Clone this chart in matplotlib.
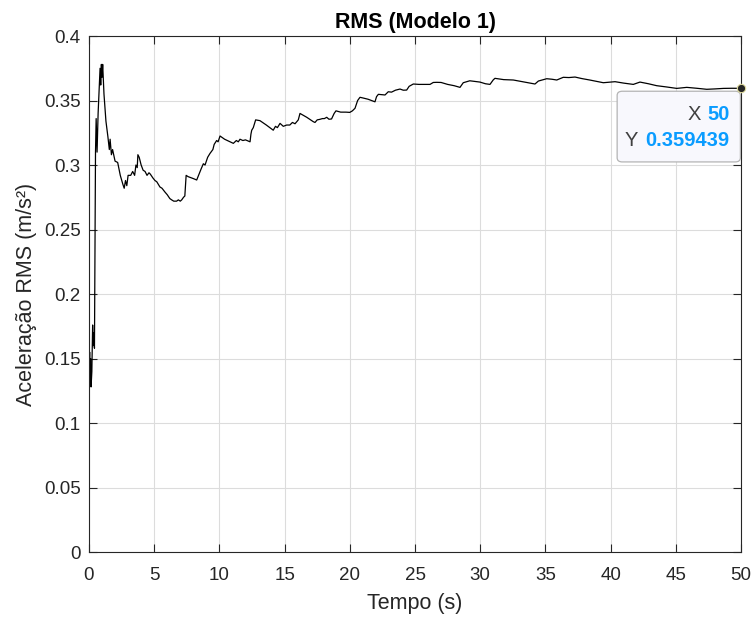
import matplotlib
matplotlib.use('Agg')
import matplotlib.pyplot as plt
from matplotlib.patches import FancyBboxPatch

plt.rcParams['font.family'] = ['Liberation Sans', 'DejaVu Sans']

# traced cumulative RMS curve
tempo = [0.0, 0.05, 0.08, 0.12, 0.16, 0.22, 0.28, 0.32, 0.36, 0.42, 0.5, 0.55, 0.62, 0.7,
         0.85, 0.9, 0.95, 1.0, 1.05, 1.15, 1.3, 1.45, 1.56, 1.62, 1.72, 1.81, 2.0, 2.2, 2.4,
         2.6, 2.7, 2.8, 2.9, 3.0, 3.2, 3.35, 3.5, 3.6, 3.7, 3.75, 3.85, 4.0, 4.15, 4.3, 4.45,
         4.6, 4.7, 4.9, 5.06, 5.2, 5.44, 5.6, 5.83, 6.0, 6.2, 6.34, 6.5, 6.72, 6.85, 7.0,
         7.11, 7.25, 7.35, 7.45, 7.6, 8.0, 8.26, 8.4, 8.6, 8.77, 8.9, 9.1, 9.28, 9.5, 9.6,
         9.79, 9.9, 10.05, 10.4, 10.81, 11.07, 11.3, 11.45, 11.58, 11.8, 12.0, 12.35, 12.42,
         12.48, 12.6, 12.78, 13.11, 13.6, 14.13, 14.3, 14.45, 14.65, 14.9, 15.16, 15.4, 15.6,
         15.8, 16.05, 16.18, 16.7, 17.2, 17.33, 17.5, 17.7, 17.9, 18.05, 18.23, 18.4, 18.6,
         18.8, 18.94, 19.3, 19.7, 20.0, 20.2, 20.4, 20.6, 20.78, 21.0, 21.4, 21.93, 22.05,
         22.19, 22.7, 22.95, 23.2, 23.5, 23.85, 24.1, 24.36, 24.55, 24.87, 25.3, 25.8, 26.15,
         26.4, 26.66, 27.0, 27.5, 28.0, 28.45, 28.7, 29.2, 29.6, 29.98, 30.4, 30.75, 31.0,
         31.13, 31.8, 32.54, 33.4, 34.2, 34.46, 35.1, 35.5, 35.87, 36.37, 36.8, 37.27, 37.8,
         38.4, 39.19, 39.44, 40.34, 41.0, 41.74, 42.25, 42.9, 43.53, 44.3, 45.07, 45.84,
         46.6, 47.37, 48.0, 48.65, 49.3, 50.0]
rms = [0.125, 0.155, 0.13, 0.15, 0.128, 0.14, 0.176, 0.16, 0.17, 0.158, 0.31, 0.336, 0.31,
       0.34, 0.375, 0.362, 0.378, 0.368, 0.378, 0.355, 0.334, 0.322, 0.312, 0.32, 0.308,
       0.312, 0.303, 0.302, 0.292, 0.285, 0.282, 0.288, 0.284, 0.292, 0.292, 0.295, 0.292,
       0.300, 0.298, 0.308, 0.306, 0.300, 0.296, 0.295, 0.292, 0.294, 0.293, 0.290, 0.288,
       0.287, 0.283, 0.282, 0.279, 0.277, 0.274, 0.273, 0.272, 0.272, 0.273, 0.272, 0.273,
       0.275, 0.276, 0.292, 0.291, 0.2895, 0.2884, 0.292, 0.297, 0.301, 0.300, 0.306, 0.309,
       0.312, 0.316, 0.319, 0.318, 0.3225, 0.320, 0.318, 0.3168, 0.319, 0.318, 0.320, 0.319,
       0.3195, 0.318, 0.324, 0.327, 0.329, 0.335, 0.3344, 0.331, 0.327, 0.330, 0.329, 0.3323,
       0.330, 0.331, 0.331, 0.333, 0.332, 0.335, 0.340, 0.337, 0.3336, 0.333, 0.335, 0.3354,
       0.336, 0.336, 0.337, 0.3355, 0.3357, 0.340, 0.342, 0.341, 0.341, 0.3408, 0.342, 0.344,
       0.350, 0.3525, 0.352, 0.351, 0.349, 0.353, 0.3548, 0.3543, 0.3568, 0.3565, 0.358,
       0.3589, 0.358, 0.3581, 0.361, 0.3628, 0.3625, 0.3625, 0.3625, 0.364, 0.3641, 0.364,
       0.3625, 0.3615, 0.3602, 0.3638, 0.3653, 0.3648, 0.3643, 0.363, 0.3625, 0.366, 0.3672,
       0.3662, 0.3659, 0.3643, 0.3628, 0.3651, 0.3669, 0.3665, 0.3659, 0.368, 0.3678, 0.3682,
       0.367, 0.3659, 0.3643, 0.3638, 0.3646, 0.3635, 0.3625, 0.3643, 0.363, 0.3615, 0.3605,
       0.3594, 0.3602, 0.3595, 0.3587, 0.359, 0.3594, 0.3595, 0.359439]

tip_x = 50
tip_y = 0.359439

xticks = list(range(0, 51, 5))
yticks = [0, 0.05, 0.1, 0.15, 0.2, 0.25, 0.3, 0.35, 0.4]
ytick_labels = ['0', '0.05', '0.1', '0.15', '0.2', '0.25', '0.3', '0.35', '0.4']

fig = plt.figure(figsize=(7.56, 6.21), dpi=100)
ax = fig.add_axes([0.1177, 0.111, 0.8625, 0.831])

ax.plot(tempo, rms, color='black', lw=0.9)
ax.plot([tip_x], [tip_y], 'o', ms=6, mfc='#262626', mec='#e0dca0', mew=0.8,
        clip_on=False, zorder=6)

ax.set_xlim(0, 50)
ax.set_ylim(0, 0.4)
ax.set_xticks(xticks)
ax.set_yticks(yticks)
ax.set_yticklabels(ytick_labels)
ax.grid(True, color='#dcdcdc', lw=0.8)
ax.set_axisbelow(True)
ax.tick_params(direction='in', top=True, right=True, length=6, width=0.8,
               labelsize=13.5, colors='#262626')
ax.tick_params(axis='y', pad=6)
ax.tick_params(axis='x', pad=11)
for s in ax.spines.values():
    s.set_color('#262626')
    s.set_linewidth(0.8)

ax.set_title('RMS (Modelo 1)', fontsize=15.5, fontweight='bold', pad=6)
ax.set_xlabel('Tempo (s)', fontsize=15.5, color='#262626', labelpad=6)
ax.set_ylabel('Aceleração RMS (m/s²)', fontsize=15.5, color='#262626', labelpad=5)

# data tip
box = FancyBboxPatch((0.810, 0.756), 0.189, 0.137, transform=ax.transAxes,
                     boxstyle='round,pad=0,rounding_size=0.008',
                     fc='#f8f8fd', ec='#b4b4b4', lw=0.9, zorder=5, clip_on=False)
ax.add_patch(box)
ax.text(0.939, 0.847, 'X', transform=ax.transAxes, ha='right', va='center',
        fontsize=14.5, color='#404040', zorder=7)
ax.text(0.982, 0.847, '50', transform=ax.transAxes, ha='right', va='center',
        fontsize=14.5, color='#0a9cff', fontweight='bold', zorder=7)
ax.text(0.842, 0.798, 'Y', transform=ax.transAxes, ha='right', va='center',
        fontsize=14.5, color='#404040', zorder=7)
ax.text(0.982, 0.798, '0.359439', transform=ax.transAxes, ha='right', va='center',
        fontsize=14.5, color='#0a9cff', fontweight='bold', zorder=7)

plt.savefig('out.png', dpi=100)
plt.close()
